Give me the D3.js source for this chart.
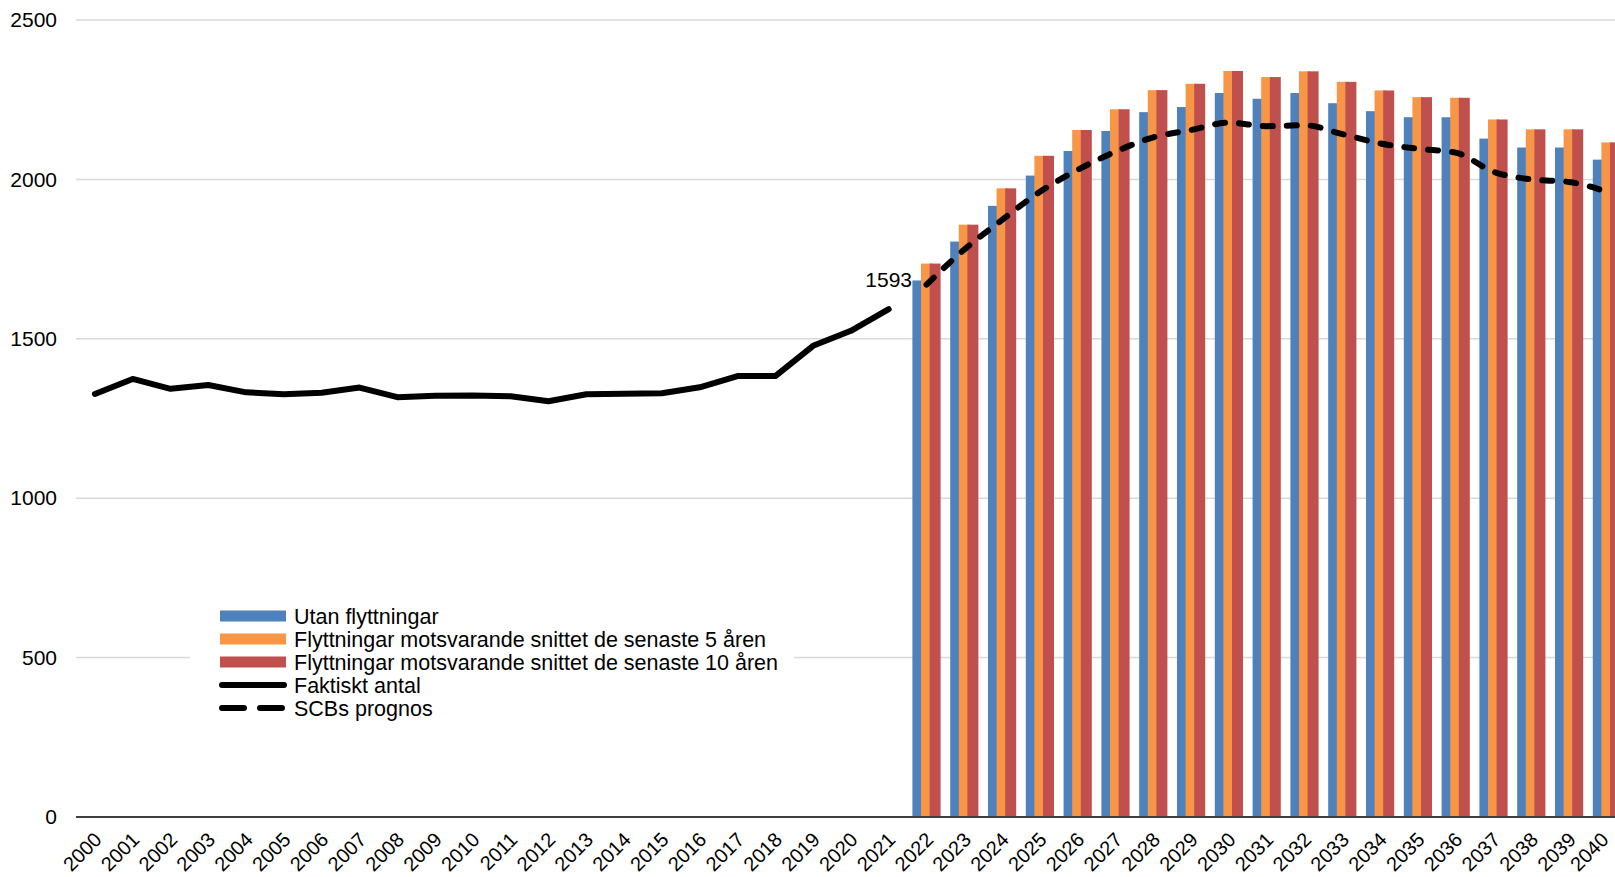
<!DOCTYPE html>
<html>
<head>
<meta charset="utf-8">
<script src="https://cdn.jsdelivr.net/npm/d3@7/dist/d3.min.js"></script>
<style>
  body { margin: 0; background: #fff; }
  svg { display: block; font-family: "Liberation Sans", Arial, sans-serif; }
</style>
</head>
<body>
<svg width="1615" height="877"></svg>
<script>
// years on the x axis
var years = d3.range(2000, 2041).map(String);
var actualYears = d3.range(2000, 2022).map(String);
var prognosYears = d3.range(2022, 2041).map(String);

// Faktiskt antal 2000-2021
var faktiskt = [1327, 1374, 1343, 1355, 1332, 1326, 1331, 1347, 1317, 1321, 1322,
                1320, 1304, 1326, 1328, 1329, 1348, 1383, 1383, 1478, 1525, 1593];

// scenarios 2022-2040
var utan = [1683, 1805, 1917, 2012, 2089, 2152, 2211, 2227, 2271, 2253,
            2271, 2239, 2214, 2195, 2195, 2128, 2100, 2100, 2062];
var snitt5 = [1736, 1858, 1972, 2074, 2155, 2220, 2280, 2300, 2340, 2321,
              2339, 2306, 2279, 2258, 2256, 2188, 2157, 2157, 2116];
var snitt10 = [1736, 1858, 1972, 2074, 2155, 2220, 2280, 2300, 2340, 2321,
               2339, 2306, 2279, 2258, 2256, 2188, 2157, 2157, 2116];
var scb = [1670, 1780, 1873, 1961, 2030, 2087, 2132, 2155, 2178, 2167,
           2170, 2142, 2113, 2096, 2084, 2024, 2000, 1992, 1961];

var yTicks = [0, 500, 1000, 1500, 2000, 2500];

var seriesNames = ["Utan flyttningar",
                   "Flyttningar motsvarande snittet de senaste 5 åren",
                   "Flyttningar motsvarande snittet de senaste 10 åren",
                   "Faktiskt antal",
                   "SCBs prognos"];
var colors = ["#4F81BD", "#F79646", "#C0504D"];

var svg = d3.select("svg");
var fs = 21;

var left = 76, band = 37.8;
var x = d3.scaleBand()
    .domain(years)
    .range([left, left + years.length * band])
    .paddingInner(0).paddingOuter(0);
var y = d3.scaleLinear().domain([0, 2500]).range([817, 20]);

// gridlines
svg.append("g")
    .selectAll("line")
    .data(yTicks.filter(function(d) { return d > 0; }))
    .enter().append("line")
    .attr("x1", left).attr("x2", 1615)
    .attr("y1", function(d) { return y(d); })
    .attr("y2", function(d) { return y(d); })
    .attr("stroke", "#d9d9d9")
    .attr("stroke-width", 1.5);

// y axis labels
var yAxis = d3.axisLeft(y).tickValues(yTicks).tickFormat(d3.format("d")).tickSize(0).tickPadding(0);
var yg = svg.append("g").attr("transform", "translate(57,0)").call(yAxis);
yg.select(".domain").remove();
yg.selectAll("text").attr("font-size", fs).attr("fill", "#000")
    .attr("font-family", "Liberation Sans, Arial, sans-serif");

// bars - three series overlapping a bit, later ones on top
var barW = 11, step = 8.6, offset = 4.8;
[utan, snitt5, snitt10].forEach(function(vals, s) {
    svg.append("g")
        .selectAll("rect")
        .data(vals)
        .enter().append("rect")
        .attr("x", function(d, i) { return x(prognosYears[i]) + offset + s * step; })
        .attr("y", function(d) { return y(d); })
        .attr("width", barW)
        .attr("height", function(d) { return y(0) - y(d); })
        .attr("fill", colors[s]);
});

// x axis
var xAxis = d3.axisBottom(x).tickSize(0).tickPadding(0);
var xg = svg.append("g").attr("transform", "translate(0," + y(0) + ")").call(xAxis);
xg.select(".domain").remove();
xg.selectAll("text")
    .attr("font-size", 20).attr("fill", "#000")
    .attr("font-family", "Liberation Sans, Arial, sans-serif")
    .attr("text-anchor", "end")
    .attr("dy", 0)
    .attr("transform", function(d) {
        // last label would run past the right edge
        return "translate(" + (d == "2040" ? 3 : 8) + ",24) rotate(-45)";
    });
svg.append("line")
    .attr("x1", left).attr("x2", 1615)
    .attr("y1", y(0)).attr("y2", y(0))
    .attr("stroke", "#404040").attr("stroke-width", 2);

// lines
var line = d3.line()
    .x(function(d) { return x(d[0]) + x.bandwidth() / 2; })
    .y(function(d) { return y(d[1]); });

svg.append("path")
    .datum(d3.zip(actualYears, faktiskt))
    .attr("d", line)
    .attr("fill", "none")
    .attr("stroke", "#000")
    .attr("stroke-width", 6)
    .attr("stroke-linejoin", "round")
    .attr("stroke-linecap", "round");

svg.append("path")
    .datum(d3.zip(prognosYears, scb))
    .attr("d", line.curve(d3.curveMonotoneX))
    .attr("fill", "none")
    .attr("stroke", "#000")
    .attr("stroke-width", 6)
    .attr("stroke-dasharray", "10,14")
    .attr("stroke-linecap", "round");

// data label for last actual value
svg.append("text")
    .attr("x", x("2021") + x.bandwidth() / 2)
    .attr("y", y(faktiskt[faktiskt.length - 1]) - 22)
    .attr("text-anchor", "middle")
    .attr("font-size", fs)
    .text(faktiskt[faktiskt.length - 1]);

// legend
var lg = svg.append("g");
lg.append("rect")
    .attr("x", 190).attr("y", 601).attr("width", 604).attr("height", 118)
    .attr("fill", "#fff");
var rowY = function(i) { return 616 + i * 23; };
seriesNames.forEach(function(name, i) {
    if (i < 3) {
        lg.append("rect")
            .attr("x", 220).attr("y", rowY(i) - 5.5)
            .attr("width", 66).attr("height", 11)
            .attr("fill", colors[i]);
    } else {
        lg.append("line")
            .attr("x1", 222).attr("x2", 284)
            .attr("y1", rowY(i)).attr("y2", rowY(i))
            .attr("stroke", "#000").attr("stroke-width", 6)
            .attr("stroke-linecap", "round")
            .attr("stroke-dasharray", i == 4 ? "22,16" : null);
    }
    lg.append("text")
        .attr("x", 294).attr("y", rowY(i))
        .attr("dy", "0.35em")
        .attr("font-size", 21.5)
        .text(name);
});
</script>
</body>
</html>
